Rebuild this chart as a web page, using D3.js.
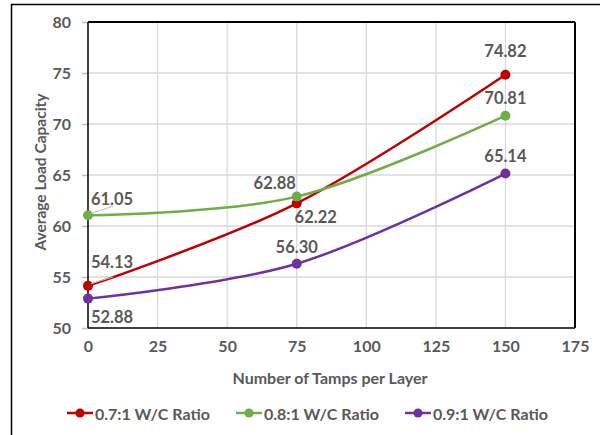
<!DOCTYPE html>
<html>
<head>
<meta charset="utf-8">
<script src="https://cdn.jsdelivr.net/npm/d3@7"></script>
<style>
  html, body { margin: 0; padding: 0; background: #fff; }
  svg { display: block; font-family: Lato, "Open Sans", sans-serif; }
</style>
</head>
<body>
<svg id="chart" width="600" height="435"></svg>
<script>
// Number of tamps per layer (x) and average load capacity per W/C ratio
const tamps = [0, 75, 150];
const wc07 = [54.13, 62.22, 74.82];
const wc08 = [61.05, 62.88, 70.81];
const wc09 = [52.88, 56.30, 65.14];
const seriesNames = ["0.7:1 W/C Ratio", "0.8:1 W/C Ratio", "0.9:1 W/C Ratio"];
const seriesColors = ["#C00000", "#70AD47", "#7030A0"];
const xTicks = [0, 25, 50, 75, 100, 125, 150, 175];
const yTicks = [50, 55, 60, 65, 70, 75, 80];

// label offsets [dx, dy] from each point, per series
const labelOffsets = [
  [[24, -24], [19, 14], [0, -24]],
  [[24, -16], [-22, -14], [0, -18]],
  [[24, 18], [0, -17], [0, -18]]
];
const leaderLines = [[true, false, false], [true, false, false], [false, false, false]];

const svg = d3.select("#chart");
const textColor = "#595959";

// outer frame
svg.append("path").attr("d", "M11.5,435 L11.5,4.5 L600,4.5")
  .attr("fill", "none").attr("stroke", "#000").attr("stroke-width", 1.5);

const x = d3.scaleLinear().domain([0, 175]).range([88, 575]);
const y = d3.scaleLinear().domain([50, 80]).range([328, 22]);

// gridlines
const grid = svg.append("g");
grid.selectAll("line.v").data(xTicks.slice(1, -1)).join("line")
  .attr("x1", d => x(d)).attr("x2", d => x(d))
  .attr("y1", y(80)).attr("y2", y(50))
  .attr("stroke", "#d9d9d9").attr("stroke-width", 1.3);
grid.selectAll("line.h").data(yTicks.slice(1, -1)).join("line")
  .attr("x1", x(0)).attr("x2", x(175))
  .attr("y1", d => y(d)).attr("y2", d => y(d))
  .attr("stroke", "#d9d9d9").attr("stroke-width", 1.3);

// y axis
const yAxis = svg.append("g").attr("transform", `translate(${x(0)},0)`)
  .call(d3.axisLeft(y).tickValues(yTicks).tickSize(6).tickPadding(11));
yAxis.select(".domain").remove();
yAxis.selectAll(".tick line").attr("stroke", "#bfbfbf").attr("stroke-width", 1.5);
yAxis.selectAll("text").attr("fill", textColor).attr("font-size", 16)
  .attr("font-weight", "bold").attr("font-family", "Lato, sans-serif");

// x axis
const xAxis = svg.append("g").attr("transform", `translate(0,${y(50)})`)
  .call(d3.axisBottom(x).tickValues(xTicks).tickSize(0).tickPadding(13));
xAxis.select(".domain").remove();
xAxis.selectAll("text").attr("fill", textColor).attr("font-size", 16)
  .attr("font-weight", "bold").attr("font-family", "Lato, sans-serif");

// plot frame
svg.append("line").attr("x1", x(0)).attr("x2", x(175)).attr("y1", y(80)).attr("y2", y(80))
  .attr("stroke", "#000").attr("stroke-width", 2);
svg.append("line").attr("x1", x(175)).attr("x2", x(175)).attr("y1", y(80)).attr("y2", y(50))
  .attr("stroke", "#000").attr("stroke-width", 2);
svg.append("line").attr("x1", x(0)).attr("x2", x(0)).attr("y1", y(80)).attr("y2", y(50))
  .attr("stroke", "#000").attr("stroke-width", 1.5);
svg.append("line").attr("x1", x(0)).attr("x2", x(175)).attr("y1", y(50)).attr("y2", y(50))
  .attr("stroke", "#000").attr("stroke-width", 1.5);

// axis titles
svg.append("text").attr("x", 330).attr("y", 384).attr("text-anchor", "middle")
  .attr("fill", textColor).attr("font-size", 16).attr("font-weight", "bold")
  .text("Number of Tamps per Layer");
svg.append("text").attr("transform", "translate(46,172) rotate(-90)")
  .attr("text-anchor", "middle").attr("fill", textColor).attr("font-size", 15.5)
  .attr("font-weight", "bold").text("Average Load Capacity");

// series
const allSeries = [wc07, wc08, wc09];
const line = d3.line().x(d => x(d[0])).y(d => y(d[1])).curve(d3.curveCatmullRom.alpha(0));

allSeries.forEach((vals, i) => {
  const pts = tamps.map((t, j) => [t, vals[j]]);
  const g = svg.append("g");
  g.append("path").datum(pts).attr("d", line).attr("fill", "none")
    .attr("stroke", seriesColors[i]).attr("stroke-width", 2.5);
  g.selectAll("circle").data(pts).join("circle")
    .attr("cx", d => x(d[0])).attr("cy", d => y(d[1])).attr("r", 5)
    .attr("fill", seriesColors[i]);
});

// data labels
allSeries.forEach((vals, i) => {
  tamps.forEach((t, j) => {
    const px = x(t), py = y(vals[j]);
    const [dx, dy] = labelOffsets[i][j];
    if (leaderLines[i][j]) {
      svg.append("line").attr("x1", px + 3).attr("y1", py - 2)
        .attr("x2", px + 25).attr("y2", py - 9)
        .attr("stroke", "#bfbfbf").attr("stroke-width", 1);
    }
    svg.append("text").attr("x", px + dx).attr("y", py + dy)
      .attr("text-anchor", "middle").attr("dominant-baseline", "central")
      .attr("fill", textColor).attr("font-size", 16.5).attr("font-weight", "bold")
      .text(vals[j].toFixed(2));
  });
});

// legend
const legendX = [67, 236, 405];
const legend = svg.append("g");
seriesNames.forEach((name, i) => {
  const lg = legend.append("g").attr("transform", `translate(${legendX[i]},413)`);
  lg.append("line").attr("x1", 0).attr("x2", 26).attr("y1", 0).attr("y2", 0)
    .attr("stroke", seriesColors[i]).attr("stroke-width", 2.5);
  lg.append("circle").attr("cx", 13).attr("cy", 0).attr("r", 4.5).attr("fill", seriesColors[i]);
  lg.append("text").attr("x", 28).attr("y", 0).attr("dominant-baseline", "central")
    .attr("fill", textColor).attr("font-size", 16).attr("font-weight", "bold").text(name);
});
</script>
</body>
</html>
